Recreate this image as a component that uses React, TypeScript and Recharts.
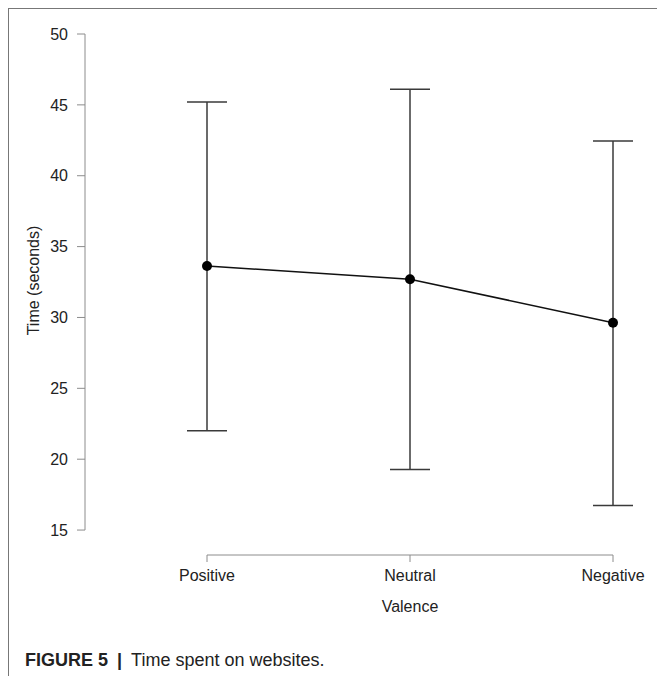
import React from 'react'
import {
    ComposedChart,
    Line,
    ErrorBar,
    XAxis,
    YAxis,
    ReferenceLine,
} from 'recharts'

// values
const CATEGORIES = ['Positive', 'Neutral', 'Negative']
const MEANS = [33.63, 32.7, 29.63]
const LOWER = [22.0, 19.28, 16.74]
const UPPER = [45.2, 46.1, 42.45]
const Y_TICKS = [15, 20, 25, 30, 35, 40, 45, 50]

// axis extents (R-style detached axes)
const X_DOMAIN: [number, number] = [-0.601, 2.133]
const Y_DOMAIN: [number, number] = [13.24, 50]

const FONT = '"Liberation Sans", Arial, Helvetica, sans-serif'
const TEXT = '#222222'
const AXIS = '#8c8c8c'

const data = CATEGORIES.map((name, i) => ({
    pos: i,
    name,
    mean: MEANS[i],
    err: [MEANS[i] - LOWER[i], UPPER[i] - MEANS[i]],
}))

function XTitle({ viewBox }: any) {
    if (!viewBox) return null
    const frac = (1 - X_DOMAIN[0]) / (X_DOMAIN[1] - X_DOMAIN[0])
    return (
        <text
            x={viewBox.x + viewBox.width * frac}
            y={viewBox.y + 56.5}
            textAnchor="middle"
            fontSize={16}
            fontFamily={FONT}
            fill={TEXT}
        >
            Valence
        </text>
    )
}

function YTitle({ viewBox }: any) {
    if (!viewBox) return null
    const cx = 38.5
    const cy = 280.5
    return (
        <text
            x={cx}
            y={cy}
            transform={`rotate(-90, ${cx}, ${cy})`}
            textAnchor="middle"
            fontSize={16}
            fontFamily={FONT}
            fill={TEXT}
        >
            Time (seconds)
        </text>
    )
}

export default function App() {
    return (
        <div style={{ position: 'absolute', left: 0, top: 0, width: 657, height: 676, background: '#fff', fontFamily: FONT }}>
            {/* page frame */}
            <div
                style={{
                    position: 'absolute',
                    left: 8,
                    top: 8,
                    width: 649,
                    height: 668,
                    borderLeft: '1.5px solid #777',
                    borderTop: '1.5px solid #777',
                }}
            />
            <div style={{ position: 'absolute', left: 0, top: 0 }}>
                <ComposedChart
                    width={657}
                    height={630}
                    data={data}
                    margin={{ top: 34, right: 17, left: 0, bottom: 0 }}
                >
                    <XAxis
                        type="number"
                        dataKey="pos"
                        domain={X_DOMAIN}
                        ticks={[0, 1, 2]}
                        allowDataOverflow
                        interval={0}
                        tickFormatter={(v: number) => CATEGORIES[v] ?? ''}
                        axisLine={false}
                        tickLine={{ stroke: AXIS, strokeWidth: 1 }}
                        tickSize={7}
                        tickMargin={8}
                        height={75}
                        tick={{ fontSize: 16, fontFamily: FONT, fill: TEXT }}
                        label={<XTitle />}
                    />
                    <YAxis
                        type="number"
                        domain={Y_DOMAIN}
                        ticks={Y_TICKS}
                        allowDataOverflow
                        interval={0}
                        axisLine={false}
                        tickLine={{ stroke: AXIS, strokeWidth: 1 }}
                        tickSize={8}
                        tickMargin={9}
                        width={85}
                        tick={{ fontSize: 16, fontFamily: FONT, fill: TEXT }}
                        label={<YTitle />}
                    />
                    <ReferenceLine
                        segment={[{ x: X_DOMAIN[0], y: 15 }, { x: X_DOMAIN[0], y: 50 }]}
                        stroke={AXIS}
                        strokeWidth={1}
                        ifOverflow="visible"
                    />
                    <ReferenceLine
                        segment={[{ x: 0, y: Y_DOMAIN[0] }, { x: 2, y: Y_DOMAIN[0] }]}
                        stroke={AXIS}
                        strokeWidth={1}
                        ifOverflow="visible"
                    />
                    <Line
                        type="linear"
                        dataKey="mean"
                        stroke="#111"
                        strokeWidth={1.5}
                        dot={{ r: 5, fill: '#000', stroke: '#000', strokeWidth: 0 }}
                        activeDot={false}
                        isAnimationActive={false}
                    >
                        <ErrorBar
                            dataKey="err"
                            direction="y"
                            width={20}
                            stroke="#3a3a3a"
                            strokeWidth={1.5}
                            isAnimationActive={false}
                        />
                    </Line>
                </ComposedChart>
            </div>
            <div
                style={{
                    position: 'absolute',
                    left: 25,
                    top: 651,
                    fontSize: 18,
                    lineHeight: '18px',
                    color: TEXT,
                    whiteSpace: 'nowrap',
                }}
            >
                <span style={{ fontWeight: 700 }}>FIGURE 5</span>
                <span style={{ fontWeight: 700, margin: '0 9px 0 9px' }}>|</span>
                <span>Time spent on websites.</span>
            </div>
        </div>
    )
}
